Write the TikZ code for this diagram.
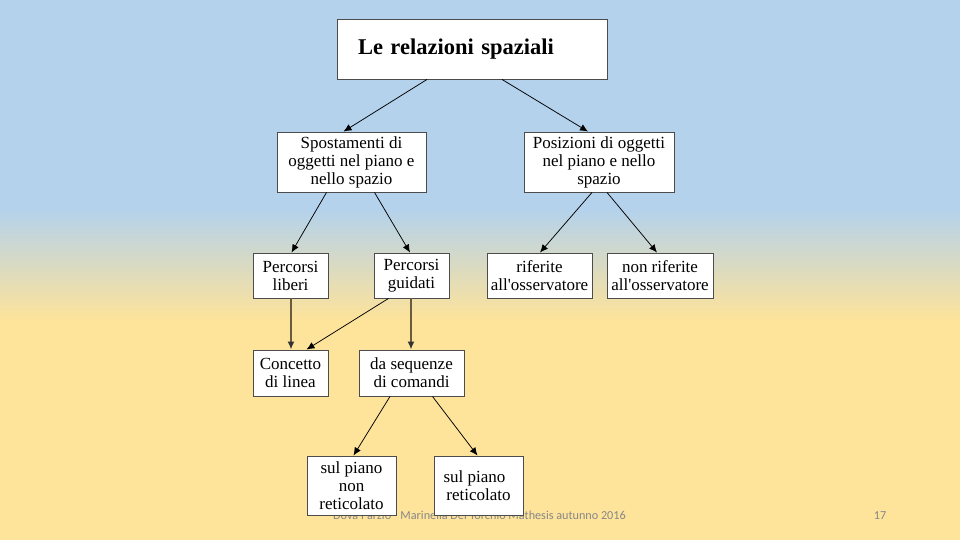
\documentclass[tikz,border=0pt]{standalone}
\usepackage{fontspec}
\setmainfont{Liberation Serif}
\newfontfamily\footfont{Carlito}
\usetikzlibrary{arrows.meta}
\definecolor{bgblue}{RGB}{180,210,235}
\definecolor{bgyellow}{RGB}{254,227,154}
\definecolor{footgray}{RGB}{135,135,135}
\definecolor{olivearrow}{RGB}{105,92,62}
\tikzset{
  box/.style={draw=black!70, line width=0.9pt, fill=white, inner sep=0pt, align=center,
    font=\fontsize{17}{18}\selectfont},
  arr/.style={draw=black, line width=0.75pt, -{Latex[length=8pt,width=7pt]}},
  varr/.style={draw=olivearrow, line width=1.9pt, -{Latex[length=8pt,width=7pt,color=black!80]}},
  foot/.style={font=\footfont\fontsize{12.2}{13}\selectfont, text=footgray, inner sep=0pt, anchor=base west}
}
\begin{document}
\begin{tikzpicture}[x=1pt,y=-1pt]
\useasboundingbox (0,0) rectangle (960,540);
% background
\fill[bgblue] (0,0) rectangle (960,210);
\shade[top color=bgblue, bottom color=bgyellow] (0,209.5) rectangle (960,320.5);
\fill[bgyellow] (0,320) rectangle (960,540);
% footer
\node[foot] (footer) at (333,519) {Dova Parzio - Marinella Del Torchio Mathesis autunno 2016};
\node[foot, anchor=base] (pagenum) at (880,519) {17};
% nodes
\node[box, text width=228pt, inner xsep=21pt, minimum height=60pt, align=left,
  font=\bfseries\fontsize{22.5}{24}\selectfont] (title) at (472,49) {Le relazioni spaziali};
\node[box, minimum width=149pt, minimum height=60pt] (spost) at (351.5,162) {Spostamenti di\\oggetti nel piano e\\nello spazio};
\node[box, minimum width=150pt, minimum height=60pt] (posiz) at (599,162) {Posizioni di oggetti\\nel piano e nello\\spazio};
\node[box, minimum width=75pt, minimum height=45pt] (liberi) at (290.5,275.5) {Percorsi\\liberi};
\node[box, minimum width=75pt, minimum height=45pt] (guidati) at (411.5,275.5) {Percorsi\\guidati};
\node[box, minimum width=105pt, minimum height=45pt] (riferite) at (539.5,275.5) {riferite\\all\textquotesingle osservatore};
\node[box, minimum width=106pt, minimum height=45pt] (nonrif) at (660,275.5) {non riferite\\all\textquotesingle osservatore};
\node[box, minimum width=75pt, minimum height=46pt] (concetto) at (290.5,373) {Concetto\\di linea};
\node[box, minimum width=105pt, minimum height=46pt] (sequenze) at (411.5,373) {da sequenze\\di comandi};
\node[box, minimum width=89pt, minimum height=59pt] (nonret) at (351.5,485.5) {sul piano\\non\\reticolato};
\node[box, minimum width=89pt, minimum height=59pt] (ret) at (478.5,485.5) {\hspace*{-8pt}sul piano\\reticolato\hspace*{0pt}};
% connectors
\draw[arr] ([xshift=-45pt]title.south) -- ([xshift=-8pt]spost.north);
\draw[arr] ([xshift=30pt]title.south) -- ([xshift=-11pt]posiz.north);
\draw[arr] ([xshift=-25pt]spost.south) -- ([xshift=1pt]liberi.north);
\draw[arr] ([xshift=23pt]spost.south) -- ([xshift=-1.5pt]guidati.north);
\draw[arr] ([xshift=-7pt]posiz.south) -- ([xshift=0.5pt]riferite.north);
\draw[arr] ([xshift=8pt]posiz.south) -- ([xshift=-3pt]nonrif.north);
\draw[varr] ([xshift=0.5pt]liberi.south) -- ([xshift=0.5pt]concetto.north);
\draw[varr] ([xshift=-0.5pt]guidati.south) -- ([xshift=-0.5pt]sequenze.north);
\draw[arr] ([xshift=-23pt]guidati.south) -- ([xshift=16pt]concetto.north);
\draw[arr] ([xshift=-21.5pt]sequenze.south) -- ([xshift=2pt]nonret.north);
\draw[arr] ([xshift=21pt]sequenze.south) -- ([xshift=-1pt]ret.north);
\end{tikzpicture}
\end{document}
